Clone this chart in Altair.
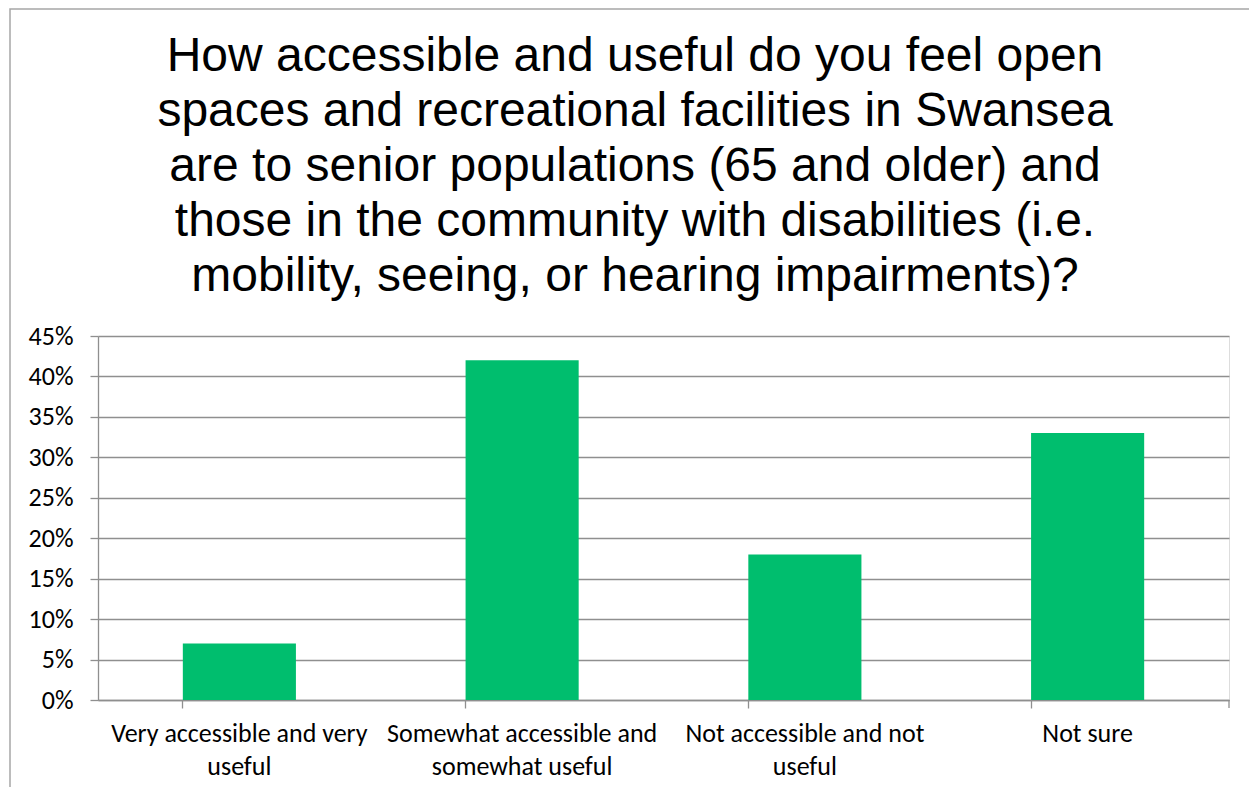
import altair as alt
import pandas as pd

categories = [
    "Very accessible and very useful",
    "Somewhat accessible and somewhat useful",
    "Not accessible and not useful",
    "Not sure",
]
label_lines = [
    ["Very accessible and very", "useful"],
    ["Somewhat accessible and", "somewhat useful"],
    ["Not accessible and not", "useful"],
    ["Not sure"],
]
values = [0.07, 0.42, 0.18, 0.33]
y_ticks = [0, 0.05, 0.10, 0.15, 0.20, 0.25, 0.30, 0.35, 0.40, 0.45]
title_lines = [
    "How accessible and useful do you feel open",
    "spaces and recreational facilities in Swansea",
    "are to senior populations (65 and older) and",
    "those in the community with disabilities (i.e.",
    "mobility, seeing, or hearing impairments)?",
]

df = pd.DataFrame({"category": categories, "value": values})

W, H = 1131, 364
GRID = "#8f8f8f"
LABEL_FONT = "Carlito, Calibri, Lato"
LABEL_SIZE = 26

expr = ""
for c, lines in zip(categories, label_lines):
    arr = "[" + ",".join("'" + s + "'" for s in lines) + "]"
    expr += f"datum.value == '{c}' ? {arr} : "
expr += "datum.label"

xscale = alt.Scale(paddingInner=0.6, paddingOuter=0.3)
yscale = alt.Scale(domain=[0, 0.45], nice=False)

bars = alt.Chart(df).mark_bar(color="#00be6e").encode(
    x=alt.X("category:N", sort=categories, scale=xscale,
            axis=alt.Axis(title=None, orient="bottom", labelAngle=0, ticks=False, domain=False,
                          labelExpr=expr, labelFont=LABEL_FONT, labelFontSize=LABEL_SIZE,
                          labelColor="#000000", labelLineHeight=33, labelPadding=20,
                          labelLimit=0, labelBaseline="top")),
    y=alt.Y("value:Q", scale=yscale,
            axis=alt.Axis(title=None, values=y_ticks, format=".0%", grid=True,
                          gridColor=GRID, gridWidth=1.3, domainColor=GRID,
                          domainWidth=1.3, tickColor=GRID, tickWidth=1.3, tickSize=8,
                          labelFont=LABEL_FONT, labelFontSize=LABEL_SIZE, labelColor="#000000",
                          labelPadding=17)),
)

tick_axis = alt.Chart(df).mark_bar(opacity=0).encode(
    x=alt.X("category:N", sort=categories, scale=xscale,
            axis=alt.Axis(title=None, orient="bottom", labels=False, ticks=True, bandPosition=0,
                          tickSize=8, tickColor=GRID, tickWidth=1.3,
                          domainColor=GRID, domainWidth=1.3)),
    y=alt.Y("value:Q", scale=yscale),
)

one = pd.DataFrame({"a": [0]})
last_tick = alt.Chart(one).mark_rule(color=GRID, strokeWidth=1.3).encode(
    x=alt.value(W), y=alt.value(H), y2=alt.value(H + 8)
)
border = alt.Chart(one).mark_rect(fill=None, stroke="#a6a6a6", strokeWidth=1.5, clip=False).encode(
    x=alt.value(-88), x2=alt.value(W + 200), y=alt.value(-327), y2=alt.value(H + 200)
)
title = alt.Chart(one).mark_text(
    font="Liberation Sans", fontSize=48, lineHeight=55, color="#000000",
    align="center", baseline="middle",
).encode(
    text=alt.value(title_lines), x=alt.value(537), y=alt.value(-279)
)

chart = alt.layer(border, title, bars, tick_axis, last_tick).resolve_axis(x="independent").properties(
    width=W, height=H,
    autosize=alt.AutoSizeParams(type="none"),
    padding={"left": 90, "top": 328, "right": 20, "bottom": 87},
).configure_view(stroke=None).configure(background="white")

chart.save("out.html", embed_options={"renderer": "svg", "actions": False})
